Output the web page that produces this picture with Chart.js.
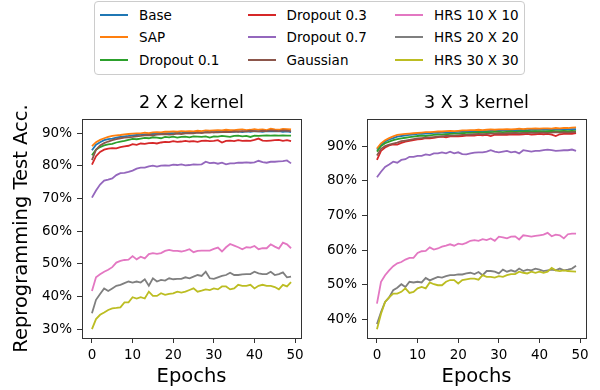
<!DOCTYPE html>
<html>
<head>
<meta charset="utf-8">
<script src="https://cdn.jsdelivr.net/npm/chart.js@4.4.1/dist/chart.umd.min.js"></script>
<style>
  body { margin: 0; width: 600px; height: 390px; background: #fff; position: relative; overflow: hidden; font-family: "DejaVu Sans", sans-serif; }
  #legend { position: absolute; left: 94px; top: 1px; width: 429px; height: 72px; border: 1px solid #ccc; border-radius: 4px; background: #fff; }
  .item { position: absolute; height: 16px; line-height: 16px; font-size: 13.5px; white-space: nowrap; display: flex; align-items: center; color: #000; }
  .swatch { display: inline-block; width: 28px; height: 2px; margin-right: 11px; }
  canvas { position: absolute; top: 80px; }
</style>
</head>
<body>
<div id="legend"></div>
<canvas id="chart2" width="310" height="310" style="left:0"></canvas>
<canvas id="chart3" width="290" height="310" style="left:310px"></canvas>
<script>
// epochs (x axis)
const epochs = [0,1,2,3,4,5,6,7,8,9,10,11,12,13,14,15,16,17,18,19,20,21,22,23,24,25,26,27,28,29,30,31,32,33,34,35,36,37,38,39,40,41,42,43,44,45,46,47,48,49];
const xTicks = [0, 10, 20, 30, 40, 50];
const yTicks2 = [30, 40, 50, 60, 70, 80, 90];
const yTicks3 = [40, 50, 60, 70, 80, 90];

const seriesNames = ['Base', 'SAP', 'Dropout 0.1', 'Dropout 0.3', 'Dropout 0.7', 'Gaussian', 'HRS 10 X 10', 'HRS 20 X 20', 'HRS 30 X 30'];
const colors = ['#1f77b4', '#ff7f0e', '#2ca02c', '#d62728', '#9467bd', '#8c564b', '#e377c2', '#7f7f7f', '#bcbd22'];

// 2 X 2 kernel
const k2Base = [84.8,86.5,87.3,87.9,88.2,88.4,88.7,88.9,89.1,89.2,89.4,89.5,89.6,89.7,89.8,89.8,89.9,90.0,90.0,90.1,90.1,90.2,90.1,90.3,90.2,90.3,90.4,90.3,90.4,90.5,90.3,90.5,90.4,90.6,90.5,90.5,90.6,90.4,90.6,90.5,90.7,90.6,90.5,90.7,90.6,90.6,90.7,90.5,90.6,90.4];
const k2Sap = [86.1,87.3,88.0,88.5,88.9,89.2,89.4,89.5,89.7,89.8,89.9,90.0,90.0,90.2,90.1,90.3,90.4,90.3,90.5,90.5,90.6,90.5,90.7,90.6,90.7,90.6,90.8,90.7,90.9,90.8,90.9,91.0,90.9,91.1,91.0,91.0,91.1,91.2,91.0,91.1,91.3,91.1,91.2,91.0,91.4,91.2,91.1,91.4,91.3,91.2];
const k2Drop01 = [83.3,85.0,85.8,86.3,86.6,86.8,87.2,87.5,87.7,88.0,88.3,88.2,88.4,88.6,88.5,88.8,88.7,88.5,88.9,88.8,89.0,88.7,88.9,89.0,88.8,89.1,89.0,88.9,89.1,88.7,89.1,89.0,89.2,89.1,88.9,89.2,89.3,89.1,89.2,88.9,89.3,89.2,89.3,89.4,89.3,89.4,89.3,89.4,89.3,89.3];
const k2Drop03 = [80.4,83.0,84.3,85.0,85.3,85.5,85.4,85.8,86.0,86.2,86.7,86.5,86.9,86.8,87.0,87.1,86.9,87.2,87.4,87.3,87.6,87.4,87.5,87.7,87.5,87.6,87.4,87.7,87.8,87.6,87.7,87.9,87.2,87.7,87.8,87.6,87.9,87.7,87.8,87.7,88.0,88.4,87.8,87.7,87.8,87.9,88.0,87.7,87.9,87.6];
const k2Drop07 = [70.3,72.5,74.3,75.5,75.8,76.2,77.2,77.8,77.9,78.2,78.6,79.2,79.5,79.5,79.9,80.1,79.8,80.1,80.2,80.1,80.4,80.3,80.5,80.2,80.3,80.5,80.4,80.5,81.3,80.9,81.0,80.7,81.0,80.5,80.8,80.8,81.0,81.0,81.1,81.0,81.1,81.6,81.2,81.0,81.3,81.3,81.4,81.5,81.7,80.8];
const k2Gauss = [81.8,85.0,86.3,87.0,87.5,87.9,88.2,88.5,88.7,88.8,88.9,89.1,89.2,89.4,89.5,89.4,89.6,89.7,89.8,89.6,89.7,89.9,89.8,90.0,90.1,90.0,90.2,90.1,90.3,90.2,90.4,90.3,90.4,90.5,90.4,90.6,90.5,90.7,90.6,90.8,90.7,90.6,90.8,90.7,90.9,90.8,90.7,90.9,90.8,90.7];
const k2Hrs10 = [41.7,45.9,46.8,47.6,48.2,49.0,50.4,50.9,51.2,51.3,52.4,51.4,52.2,51.7,53.0,53.3,53.1,53.3,54.0,54.3,54.0,54.0,53.8,54.1,54.5,53.6,54.0,54.1,54.1,54.1,54.6,55.0,53.8,55.1,56.1,55.6,55.1,54.5,55.1,55.0,55.5,54.5,54.8,54.8,56.0,55.3,54.7,56.5,56.0,54.8];
const k2Hrs20 = [34.9,39.0,40.8,42.5,41.7,42.5,43.3,43.6,44.1,44.6,44.3,44.6,44.3,45.3,43.3,45.6,44.6,45.1,44.9,45.6,45.3,45.4,45.4,45.9,45.6,46.1,46.6,46.3,47.6,45.6,45.4,45.9,46.3,46.6,47.3,46.6,46.6,46.8,46.9,46.9,47.6,47.1,46.9,46.9,47.6,46.6,46.9,47.4,45.9,46.1];
const k2Hrs30 = [30.0,33.1,34.4,35.1,35.9,36.4,36.5,36.7,38.2,38.2,39.8,39.4,39.8,39.4,41.5,40.2,40.2,41.0,40.5,40.8,41.0,41.5,41.2,41.5,42.0,42.5,41.5,41.8,42.2,42.0,42.5,42.2,43.1,43.1,42.2,42.5,43.6,43.3,43.3,43.6,42.5,43.3,43.6,43.3,43.3,42.9,42.2,43.6,43.1,44.4];

// 3 X 3 kernel
const k3Base = [89.0,90.4,91.3,91.9,92.3,92.7,92.9,93.1,93.2,93.3,93.5,93.5,93.6,93.7,93.8,93.8,93.9,93.9,94.0,94.0,94.1,94.1,94.2,94.2,94.3,94.3,94.4,94.3,94.4,94.5,94.4,94.5,94.6,94.5,94.6,94.6,94.7,94.6,94.7,94.7,94.8,94.7,94.8,94.7,94.8,94.8,94.9,94.8,94.9,94.9];
const k3Sap = [89.3,90.8,91.7,92.3,92.8,93.2,93.4,93.5,93.6,93.7,93.8,93.9,94.0,94.0,94.1,94.2,94.2,94.3,94.4,94.3,94.4,94.5,94.5,94.6,94.6,94.7,94.6,94.7,94.8,94.7,94.8,94.8,94.9,94.8,94.9,95.0,94.9,95.0,95.0,95.1,95.0,95.1,95.1,95.0,95.2,95.1,95.2,95.2,95.3,95.4];
const k3Drop01 = [88.4,90.0,90.8,91.3,91.7,92.0,92.2,92.4,92.6,92.7,92.9,93.0,92.9,93.1,93.2,93.3,93.3,93.4,93.5,93.6,93.6,93.7,93.8,93.8,93.9,94.0,93.9,94.0,94.0,94.1,94.1,94.0,94.1,94.2,94.1,94.2,94.2,94.3,94.2,94.3,94.3,94.2,94.3,94.4,94.3,94.3,94.4,94.3,94.4,94.3];
const k3Drop03 = [86.0,88.6,89.6,90.2,90.5,90.4,90.9,91.3,91.5,91.7,91.9,92.0,92.3,92.2,92.4,92.6,92.7,92.5,92.8,92.9,92.8,92.9,93.0,93.1,93.0,93.2,93.1,93.2,92.9,93.3,93.2,93.3,93.2,93.4,93.3,93.3,93.4,93.5,93.3,93.4,93.5,93.4,93.5,93.3,92.9,93.4,93.5,93.6,93.5,93.7];
const k3Drop07 = [81.0,82.6,84.0,84.7,85.5,85.2,86.0,86.2,86.9,86.9,87.2,87.2,87.6,87.4,87.9,87.9,88.2,87.9,88.4,87.9,88.2,87.7,87.6,87.9,88.1,88.2,88.2,88.4,88.8,88.4,88.2,88.4,88.6,88.2,88.4,87.9,88.8,88.6,88.4,88.6,88.6,88.8,89.0,88.8,88.6,88.7,88.8,88.8,89.0,88.6];
const k3Gauss = [87.3,89.2,90.0,90.4,90.7,91.0,91.4,91.6,91.8,92.0,92.2,92.3,92.4,92.5,92.6,92.7,92.8,92.9,93.0,93.0,93.1,93.2,93.2,93.3,93.4,93.5,93.4,93.5,93.6,93.6,93.7,93.6,93.7,93.7,93.8,93.7,93.8,93.8,93.9,93.8,93.9,93.9,93.8,93.9,94.0,93.9,94.0,93.9,94.0,94.0];
const k3Hrs10 = [44.6,50.9,52.8,54.2,55.4,56.2,56.6,57.3,57.8,57.8,59.2,59.7,59.8,60.8,60.2,60.5,61.0,61.3,61.7,61.3,61.9,61.7,62.1,62.7,62.9,62.7,63.2,62.9,63.4,62.7,63.9,63.7,63.4,63.9,64.0,63.1,64.3,64.1,63.9,64.1,64.3,64.5,65.0,64.0,64.5,64.3,63.4,64.6,64.8,64.8];
const k3Hrs20 = [38.7,42.2,45.1,46.4,48.5,49.2,50.2,49.4,50.9,50.7,50.9,50.7,52.0,51.3,51.8,52.3,52.1,52.5,52.8,52.8,53.0,53.0,53.3,53.5,53.1,53.7,52.8,54.0,54.0,53.8,53.3,54.4,53.8,54.2,53.8,54.7,54.0,54.4,54.2,54.7,54.4,54.0,54.2,54.4,54.2,54.7,54.2,54.4,54.7,55.5];
const k3Hrs30 = [37.2,41.7,45.1,46.4,47.5,47.5,48.0,49.0,47.7,48.0,49.0,49.4,49.0,50.7,50.2,49.9,49.9,50.9,51.4,51.4,50.4,51.4,51.6,51.8,51.8,51.5,52.8,52.3,52.3,52.1,52.5,52.3,52.8,53.1,53.1,53.8,53.5,53.3,53.8,53.5,53.8,53.5,53.8,54.9,54.2,54.0,54.2,54.0,53.9,53.8];

const k2Series = [k2Base, k2Sap, k2Drop01, k2Drop03, k2Drop07, k2Gauss, k2Hrs10, k2Hrs20, k2Hrs30];
const k3Series = [k3Base, k3Sap, k3Drop01, k3Drop03, k3Drop07, k3Gauss, k3Hrs10, k3Hrs20, k3Hrs30];

Chart.defaults.font.family = '"DejaVu Sans", sans-serif';
Chart.defaults.color = '#000';

// legend (shared by both panels)
const legend = document.getElementById('legend');
seriesNames.forEach((name, i) => {
    const col = Math.floor(i / 3), row = i % 3;
    const item = document.createElement('div');
    item.className = 'item';
    item.style.left = (5 + col * 147.5) + 'px';
    item.style.top = (12.5 + row * 22.8 - 8) + 'px';
    item.innerHTML = '<span class="swatch" style="background:' + colors[i] + '"></span>' + name;
    legend.appendChild(item);
});

// box round the plot area, like matplotlib spines
const framePlugin = {
    id: 'frame',
    afterDatasetsDraw(chart) {
        const { ctx, chartArea: a } = chart;
        ctx.save();
        ctx.strokeStyle = '#333';
        ctx.lineWidth = 1;
        ctx.strokeRect(Math.round(a.left) + 0.5, Math.round(a.top) + 0.5, Math.round(a.right - a.left), Math.round(a.bottom - a.top));
        ctx.restore();
    }
};

function makeChart(id, series, title, yMin, yMax, yTicks, yWidth, padRight, showYTitle) {
    const ctx = document.getElementById(id).getContext('2d');
    return new Chart(ctx, {
        type: 'line',
        data: {
            datasets: series.map((vals, i) => ({
                label: seriesNames[i],
                data: epochs.map((e, j) => ({ x: e, y: vals[j] })),
                borderColor: colors[i],
                backgroundColor: colors[i],
                borderWidth: 1.8,
                pointRadius: 0,
                tension: 0,
                fill: false,
                order: series.length - i
            }))
        },
        options: {
            responsive: false,
            devicePixelRatio: 1,
            animation: false,
            layout: { padding: { top: 0, right: padRight, bottom: 0, left: 0 } },
            plugins: {
                legend: { display: false },
                tooltip: { enabled: false },
                title: {
                    display: true, text: title, fullSize: false, color: '#000',
                    font: { size: 17.5, weight: 'normal' },
                    padding: { top: 12.5, bottom: 5.5 }
                }
            },
            scales: {
                x: {
                    type: 'linear', min: -2.45, max: 51.45,
                    afterBuildTicks: s => { s.ticks = xTicks.map(v => ({ value: v })); },
                    afterFit: s => { s.height = 52; },
                    grid: { display: true, drawOnChartArea: false, drawTicks: true, tickLength: 5, color: '#333' },
                    border: { display: false },
                    ticks: { color: '#000', font: { size: 13.5 }, padding: 4, maxRotation: 0 },
                    title: { display: true, text: 'Epochs', color: '#000', font: { size: 19.5 }, padding: { top: 0, bottom: 1.3 } }
                },
                y: {
                    type: 'linear', min: yMin, max: yMax,
                    afterBuildTicks: s => { s.ticks = yTicks.map(v => ({ value: v })); },
                    afterFit: s => { s.width = yWidth; },
                    grid: { display: true, drawOnChartArea: false, drawTicks: true, tickLength: 5, color: '#333' },
                    border: { display: false },
                    ticks: { color: '#000', font: { size: 13.5 }, padding: 5, callback: v => v + '%' },
                    title: { display: showYTitle, text: 'Reprogramming Test Acc.', color: '#000', font: { size: 19.5 }, padding: { top: 10, bottom: 0 } }
                }
            }
        },
        plugins: [framePlugin]
    });
}

makeChart('chart2', k2Series, '2 X 2 kernel', 27.3, 94.4, yTicks2, 82, 9, true);
makeChart('chart3', k3Series, '3 X 3 kernel', 34.7, 97.8, yTicks3, 57, 14, false);
</script>
</body>
</html>
